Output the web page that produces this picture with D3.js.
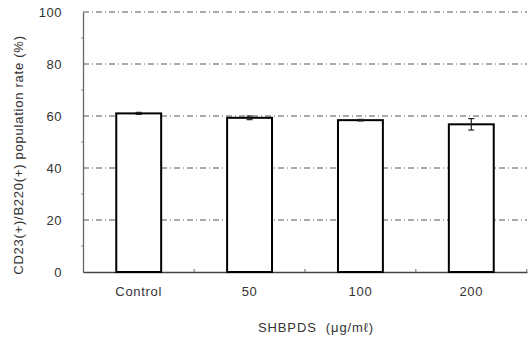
<!DOCTYPE html>
<html>
<head>
<meta charset="utf-8">
<script src="https://cdn.jsdelivr.net/npm/d3@7"></script>
<style>
  body { margin: 0; background: #fff; }
  svg { display: block; font-family: "Liberation Sans", Arial, sans-serif; }
</style>
</head>
<body>
<div id="chart"></div>
<script>
// chart data
const categories = ["Control", "50", "100", "200"];
const values = [61.0, 59.3, 58.4, 56.8];
const errors = [0.4, 0.7, 0.3, 2.2];
const yTicks = [0, 20, 40, 60, 80, 100];

const width = 531;
const height = 343;
const margin = {left: 83, right: 4, top: 12, bottom: 71};

const svg = d3.select("#chart")
  .append("svg")
  .attr("width", width)
  .attr("height", height);

const x = d3.scaleBand()
  .domain(categories)
  .range([margin.left, width - margin.right])
  .paddingInner(0.595)
  .paddingOuter(0.3);

const y = d3.scaleLinear()
  .domain([0, 100])
  .range([height - margin.bottom, margin.top]);

// gridlines (dash-dot)
svg.append("g")
  .selectAll("line")
  .data(yTicks.filter(d => d > 0))
  .enter()
  .append("line")
    .attr("x1", margin.left)
    .attr("x2", width - margin.right)
    .attr("y1", d => y(d))
    .attr("y2", d => y(d))
    .attr("stroke", "#555")
    .attr("stroke-width", 1)
    .attr("stroke-dasharray", "6,3,1,3");

// y axis
const yAxis = svg.append("g")
  .attr("transform", `translate(${margin.left},0)`)
  .call(d3.axisLeft(y).tickValues(yTicks).tickSize(0).tickPadding(21));
yAxis.select(".domain").attr("stroke", "#666").attr("stroke-width", 1.3);
yAxis.selectAll("text").attr("font-size", "13px").attr("letter-spacing", "0.5px").attr("fill", "#333");

// minor ticks on y axis
svg.append("g")
  .selectAll("line")
  .data(d3.range(10, 100, 20))
  .enter()
  .append("line")
    .attr("x1", margin.left - 2)
    .attr("x2", margin.left)
    .attr("y1", d => y(d))
    .attr("y2", d => y(d))
    .attr("stroke", "#888");

// x axis
const xAxis = svg.append("g")
  .attr("transform", `translate(0,${height - margin.bottom})`)
  .call(d3.axisBottom(x).tickSize(0).tickPadding(15));
xAxis.select(".domain").attr("stroke", "#444").attr("stroke-width", 1.3);
xAxis.selectAll("text").attr("font-size", "13px").attr("letter-spacing", "0.7px").attr("fill", "#333");

// small ticks between categories
svg.append("g")
  .selectAll("line")
  .data(categories)
  .enter()
  .append("line")
    .attr("x1", c => x(c) + x.bandwidth() + (x.step() - x.bandwidth()) / 2)
    .attr("x2", c => x(c) + x.bandwidth() + (x.step() - x.bandwidth()) / 2)
    .attr("y1", y(0))
    .attr("y2", y(0) - 3)
    .attr("stroke", "#666");

// bars
svg.selectAll(".bar")
  .data(values)
  .enter()
  .append("rect")
    .attr("class", "bar")
    .attr("x", (d, i) => x(categories[i]))
    .attr("y", d => y(d))
    .attr("width", x.bandwidth())
    .attr("height", d => y(0) - y(d))
    .attr("fill", "#fff")
    .attr("stroke", "#000")
    .attr("stroke-width", 2);

// error bars
const eb = svg.append("g").attr("stroke", "#222").attr("stroke-width", 1.2);
values.forEach((v, i) => {
  const cx = x(categories[i]) + x.bandwidth() / 2;
  eb.append("line").attr("x1", cx).attr("x2", cx).attr("y1", y(v + errors[i])).attr("y2", y(v - errors[i]));
  eb.append("line").attr("x1", cx - 3).attr("x2", cx + 3).attr("y1", y(v + errors[i])).attr("y2", y(v + errors[i]));
  eb.append("line").attr("x1", cx - 3).attr("x2", cx + 3).attr("y1", y(v - errors[i])).attr("y2", y(v - errors[i]));
});

// axis titles
svg.append("text")
  .attr("transform", `translate(23,155) rotate(-90)`)
  .attr("text-anchor", "middle")
  .attr("font-size", "13px")
  .attr("letter-spacing", "0.75px")
  .attr("fill", "#333")
  .text("CD23(+)/B220(+) population rate (%)");

svg.append("text")
  .attr("x", 316)
  .attr("y", 332)
  .attr("text-anchor", "middle")
  .attr("font-size", "13px")
  .attr("letter-spacing", "0.9px")
  .attr("fill", "#333")
  .text("SHBPDS  (μg/mℓ)")
  .attr("xml:space", "preserve")
  .style("white-space", "pre");
</script>
</body>
</html>
